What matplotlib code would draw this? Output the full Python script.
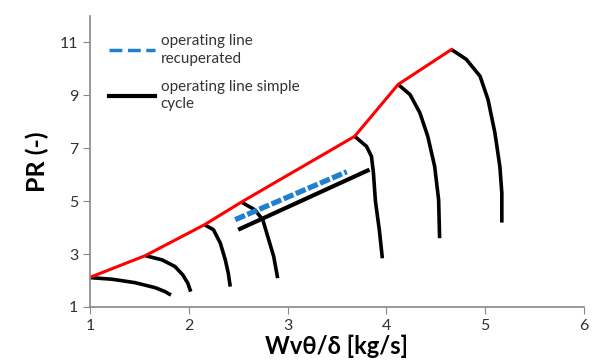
import matplotlib.pyplot as plt
from matplotlib.lines import Line2D

plt.rcParams['font.family'] = ['Lato', 'DejaVu Sans']

# Surge line (red)
surge_x = [1.00, 1.56, 2.16, 2.54, 3.68, 4.12, 4.66]
surge_y = [2.12, 2.94, 4.11, 4.98, 7.45, 9.41, 10.73]

# Speed lines (black)
speed_lines = [
    ([1.00, 1.22, 1.455, 1.66, 1.76, 1.82],
     [2.11, 2.05, 1.92, 1.73, 1.58, 1.45]),
    ([1.56, 1.73, 1.86, 1.94, 1.99, 2.02],
     [2.94, 2.78, 2.53, 2.21, 1.90, 1.58]),
    ([2.16, 2.25, 2.32, 2.37, 2.40, 2.42],
     [4.11, 3.92, 3.41, 2.78, 2.28, 1.77]),
    ([2.54, 2.67, 2.75, 2.80, 2.86, 2.90],
     [4.95, 4.67, 4.29, 3.66, 2.91, 2.09]),
    ([3.68, 3.80, 3.85, 3.87, 3.89, 3.93, 3.96],
     [7.45, 7.07, 6.69, 6.06, 5.00, 3.90, 2.84]),
    ([4.12, 4.24, 4.34, 4.42, 4.49, 4.53, 4.54],
     [9.41, 9.03, 8.34, 7.45, 6.31, 5.05, 3.60]),
    ([4.66, 4.81, 4.95, 5.03, 5.10, 5.15, 5.17, 5.17],
     [10.73, 10.36, 9.72, 8.84, 7.58, 6.31, 5.31, 4.19]),
]

# Operating lines
simple_x = [2.50, 3.83]
simple_y = [3.92, 6.19]
recup_x = [2.47, 3.00, 3.60]
recup_y = [4.30, 5.15, 6.11]

fig = plt.figure(figsize=(6.0, 3.62), dpi=100)
ax = fig.add_axes([0.15, 0.152, 0.823, 0.804])

for sx, sy in speed_lines:
    ax.plot(sx, sy, color='black', lw=2.6, solid_capstyle='butt',
            solid_joinstyle='round')
ax.plot(surge_x, surge_y, color='#ff0000', lw=2.2)
ax.plot(simple_x, simple_y, color='black', lw=3, solid_capstyle='butt')
ax.plot(recup_x, recup_y, color='#1f7fd0', lw=3.8, ls=(0, (2, 0.5)))

ax.set_xlim(1, 6)
ax.set_ylim(1, 12)
ax.set_xticks([1, 2, 3, 4, 5, 6])
ax.set_yticks([1, 3, 5, 7, 9, 11])
for s in ['top', 'right']:
    ax.spines[s].set_visible(False)
for s in ['left', 'bottom']:
    ax.spines[s].set_color('#888888')
    ax.spines[s].set_linewidth(1.2)
ax.tick_params(colors='#888888', labelcolor='#333333', labelsize=11.5, length=5)

ax.set_ylabel('PR (-)', fontsize=18, fontweight='bold', labelpad=8)
ax.set_xlabel('Wvθ/δ [kg/s]', fontsize=17, fontweight='bold', labelpad=1)

handles = [
    Line2D([], [], color='#1f7fd0', lw=2.5, ls='--'),
    Line2D([], [], color='black', lw=3),
]
labels = ['operating line\nrecuperated', 'operating line simple\ncycle']
leg = ax.legend(handles, labels, loc='upper left', bbox_to_anchor=(0.01, 0.985),
                frameon=False, fontsize=11, handlelength=3.0, handletextpad=0.4,
                labelspacing=0.9, labelcolor='#333333')
for t in leg.get_texts():
    t.set_linespacing(1.35)

fig.savefig('out.png', dpi=100)
